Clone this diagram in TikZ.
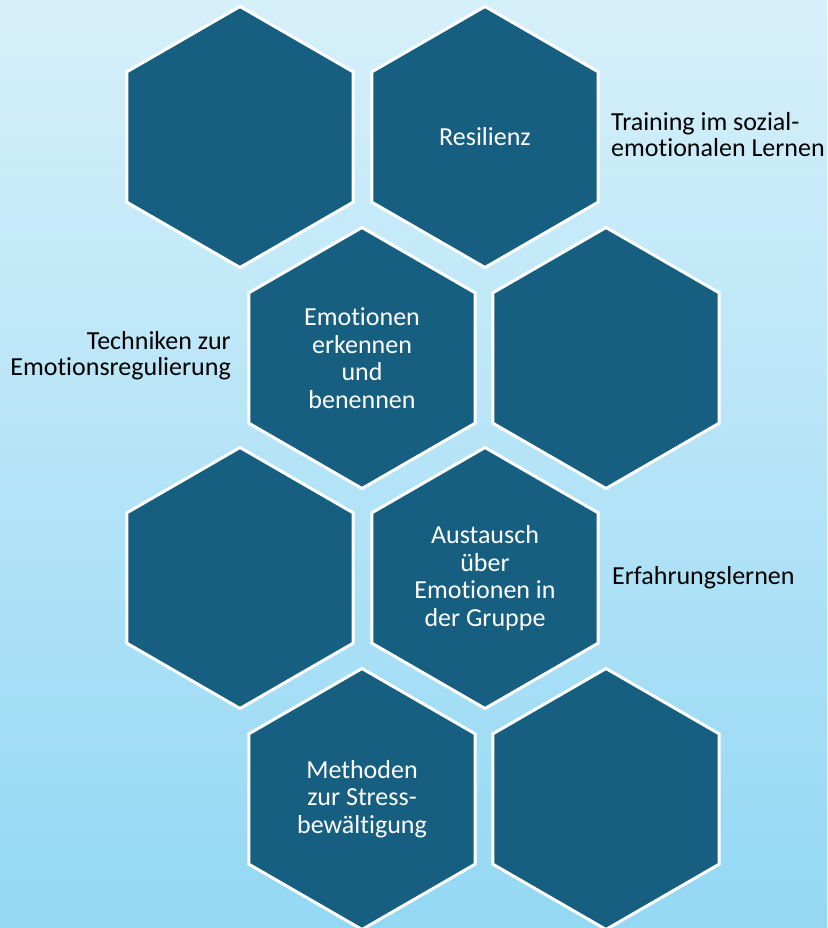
\documentclass[tikz,border=0pt]{standalone}
\usepackage{fontspec}
\setmainfont{Carlito}[Ligatures=NoCommon]
\usetikzlibrary{shapes.geometric, positioning}
\definecolor{hexblue}{RGB}{23,95,128}
\definecolor{skytop}{RGB}{214,240,250}
\definecolor{skybot}{RGB}{148,216,244}

\begin{document}
\begin{tikzpicture}[
    x=1pt, y=-1pt,
    hex/.style={regular polygon, regular polygon sides=6, shape border rotate=30,
                minimum size=261pt, inner sep=0pt, fill=hexblue, draw=white,
                line width=3pt, text=white, align=center,
                font=\fontsize{26}{27.5}\selectfont},
    lbl/.style={font=\fontsize{26}{26}\selectfont, text=black, inner sep=0pt}
]
  \useasboundingbox (0,0) rectangle (827,928);
  \shade[top color=skytop, bottom color=skybot] (0,0) rectangle (827,928);

  % Hexagons
  \node[hex] (h1) at (240,137) {};
  \node[hex] (h2) at (485,137) {Resilienz};
  \node[hex] (h3) at (362,358) {Emotionen\\erkennen\\und\\benennen};
  \node[hex] (h4) at (606,358) {};
  \node[hex] (h5) at (240,578) {};
  \node[hex] (h6) at (485,578) {Austausch\\über\\Emotionen in\\der Gruppe};
  \node[hex] (h7) at (362,799) {Methoden\\zur Stress-\\bewältigung};
  \node[hex] (h8) at (606,799) {};

  % Labels
  \node[lbl, align=left, anchor=west] (training) at (611,135)
    {Training im sozial-\\emotionalen Lernen};
  \node[lbl, align=right, anchor=east] (techniken) at (231,356)
    {Techniken zur\\Emotionsregulierung};
  \node[lbl, anchor=west] (erfahrung) at (612,578) {Erfahrungslernen};
\end{tikzpicture}
\end{document}
